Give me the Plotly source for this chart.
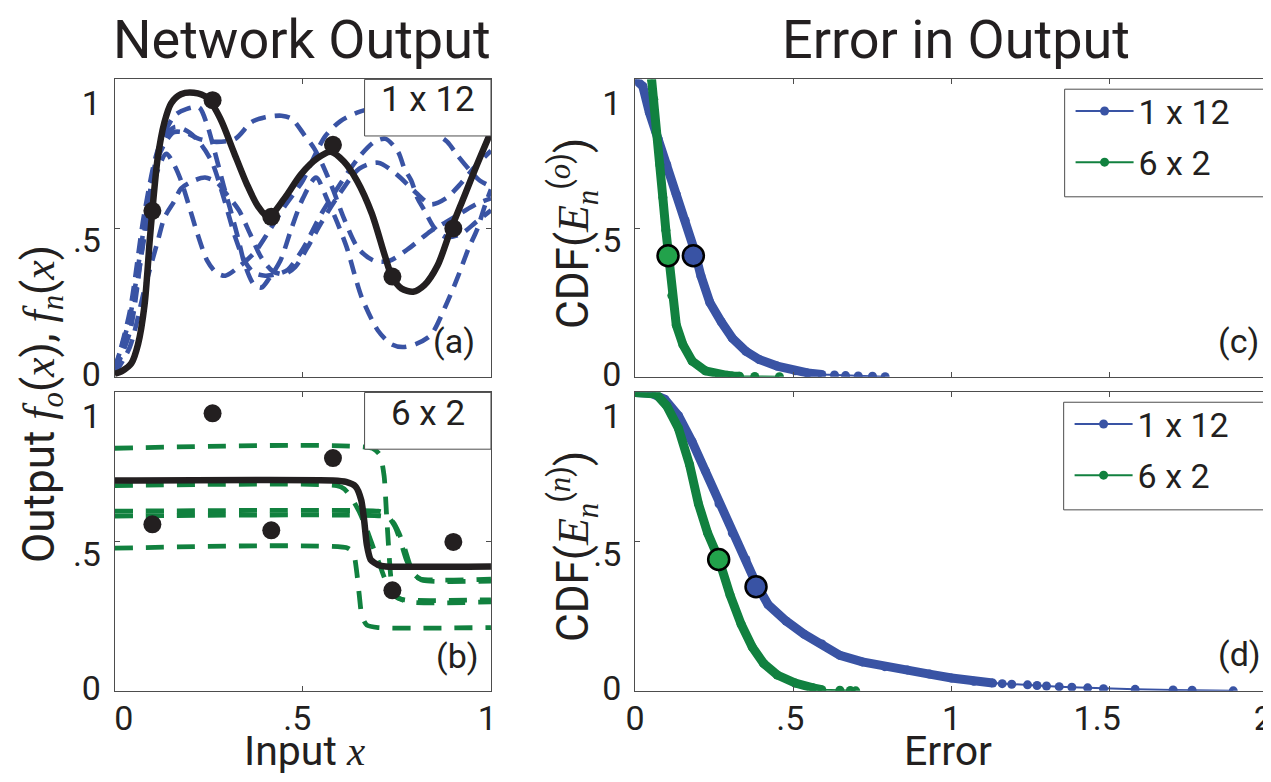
import plotly.graph_objects as go

W, H = 1271, 782
FONT = "Roboto"
SERIF = "Liberation Serif"
TXT = "#231f20"
BLUE = "#3953a4"
GREEN = "#11813f"
GREEN_HI = "#22a24b"
BLACK = "#231f20"
FRAME = "#4d4d4d"

# ---------------- data: panel (a) ----------------
X_OBS = [0.10, 0.26, 0.416, 0.58, 0.738, 0.90]
Y_OBS = [0.558, 0.93, 0.538, 0.78, 0.337, 0.499]

FO_A_X = [0, 0.02, 0.044, 0.062, 0.079, 0.093, 0.10, 0.114, 0.132, 0.15, 0.176, 0.21, 0.246, 0.281,
          0.316, 0.351, 0.38, 0.408, 0.451, 0.495, 0.539, 0.574, 0.609, 0.644, 0.683, 0.718, 0.736,
          0.762, 0.793, 0.823, 0.858, 0.893, 0.928, 0.963, 1.0]
FO_A_Y = [0.01, 0.02, 0.045, 0.11, 0.24, 0.46, 0.56, 0.735, 0.856, 0.92, 0.95, 0.955, 0.938, 0.867,
          0.757, 0.648, 0.575, 0.538, 0.60, 0.681, 0.735, 0.757, 0.724, 0.659, 0.55, 0.407, 0.34,
          0.297, 0.286, 0.308, 0.374, 0.494, 0.604, 0.714, 0.824]

FN1_X = [0, 0.04, 0.08, 0.11, 0.14, 0.158, 0.19, 0.224, 0.27, 0.32, 0.364, 0.40, 0.443, 0.47, 0.504,
         0.53, 0.552, 0.58, 0.61, 0.648, 0.69, 0.73, 0.78, 0.84, 0.88, 0.92, 0.96, 1.0]
FN1_Y = [0.02, 0.15, 0.50, 0.72, 0.80, 0.823, 0.82, 0.80, 0.79, 0.80, 0.857, 0.873, 0.878, 0.868, 0.813,
         0.768, 0.714, 0.63, 0.53, 0.43, 0.39, 0.39, 0.43, 0.49, 0.52, 0.55, 0.58, 0.60]

FN2_X = [0, 0.04, 0.08, 0.12, 0.16, 0.19, 0.224, 0.246, 0.265, 0.29, 0.31, 0.329, 0.345, 0.37, 0.39,
         0.41, 0.44, 0.47, 0.50, 0.535, 0.565, 0.591, 0.618, 0.636, 0.657, 0.70, 0.735, 0.765, 0.80,
         0.84, 0.88, 0.91, 0.94, 0.963, 0.985, 1.0]
FN2_Y = [0.03, 0.20, 0.52, 0.78, 0.88, 0.90, 0.906, 0.845, 0.76, 0.64, 0.55, 0.46, 0.38, 0.31, 0.30,
         0.33, 0.39, 0.50, 0.60, 0.67, 0.595, 0.52, 0.43, 0.35, 0.265, 0.155, 0.11, 0.10, 0.11,
         0.14, 0.24, 0.33, 0.43, 0.495, 0.58, 0.63]

FN3_X = [0, 0.04, 0.08, 0.11, 0.137, 0.158, 0.176, 0.193, 0.22, 0.246, 0.27, 0.294, 0.33, 0.373, 0.41,
         0.45, 0.50, 0.53, 0.56, 0.60, 0.644, 0.68, 0.72, 0.76, 0.80, 0.85, 0.884, 0.91, 0.94, 0.97, 1.0]
FN3_Y = [0.02, 0.18, 0.48, 0.68, 0.75, 0.712, 0.66, 0.593, 0.48, 0.39, 0.35, 0.34, 0.37, 0.42, 0.49,
         0.57, 0.66, 0.74, 0.81, 0.86, 0.888, 0.90, 0.89, 0.87, 0.85, 0.82, 0.79, 0.746, 0.70, 0.66, 0.64]

FN4_X = [0, 0.04, 0.08, 0.12, 0.16, 0.20, 0.23, 0.259, 0.29, 0.32, 0.345, 0.37, 0.40, 0.43, 0.46, 0.50,
         0.55, 0.60, 0.65, 0.69, 0.72, 0.753, 0.77, 0.788, 0.805, 0.823, 0.85, 0.88, 0.92, 0.96, 1.0]
FN4_Y = [0.02, 0.22, 0.56, 0.78, 0.84, 0.82, 0.78, 0.72, 0.60, 0.47, 0.39, 0.35, 0.34, 0.345, 0.36, 0.43,
         0.55, 0.65, 0.74, 0.79, 0.80, 0.757, 0.70, 0.66, 0.60, 0.56, 0.50, 0.47, 0.48, 0.52, 0.56]

FN5_X = [0, 0.04, 0.08, 0.115, 0.132, 0.158, 0.176, 0.211, 0.24, 0.27, 0.30, 0.33, 0.36, 0.39, 0.42,
         0.45, 0.48, 0.51, 0.55, 0.60, 0.65, 0.70, 0.75, 0.80, 0.84, 0.88, 0.92, 0.96, 1.0]
FN5_Y = [0.01, 0.10, 0.30, 0.46, 0.535, 0.59, 0.633, 0.66, 0.67, 0.655, 0.61, 0.56, 0.48, 0.40, 0.355,
         0.345, 0.37, 0.43, 0.52, 0.62, 0.70, 0.72, 0.68, 0.62, 0.58, 0.60, 0.65, 0.71, 0.76]

BLUE_CURVES = [(FN1_X, FN1_Y), (FN2_X, FN2_Y), (FN3_X, FN3_Y), (FN4_X, FN4_Y), (FN5_X, FN5_Y)]

# ---------------- data: panel (b) ----------------
FO_B_X = [0, 0.58, 0.615, 0.64, 0.655, 0.663, 0.67, 0.68, 0.70, 0.72, 1.0]
FO_B_Y = [0.705, 0.705, 0.70, 0.685, 0.64, 0.57, 0.49, 0.44, 0.422, 0.417, 0.417]

G1_X = [0, 0.685, 0.705, 0.716, 0.722, 0.728, 0.735, 0.748, 0.77, 1.0]
G1_Y = [0.813, 0.813, 0.79, 0.72, 0.60, 0.48, 0.37, 0.315, 0.305, 0.305]
G2_X = [0, 0.59, 0.61, 0.63, 0.65, 0.67, 0.69, 0.705, 0.72, 0.75, 0.78, 1.0]
G2_Y = [0.688, 0.688, 0.677, 0.645, 0.60, 0.54, 0.47, 0.42, 0.37, 0.315, 0.298, 0.298]
G3_X = [0, 0.70, 0.715, 0.73, 0.745, 0.76, 0.775, 0.79, 0.81, 1.0]
G3_Y = [0.602, 0.602, 0.597, 0.58, 0.55, 0.50, 0.44, 0.40, 0.376, 0.374]
G4_X = [0, 0.71, 0.725, 0.74, 0.755, 0.77, 0.785, 0.80, 0.82, 1.0]
G4_Y = [0.586, 0.586, 0.58, 0.565, 0.53, 0.48, 0.42, 0.385, 0.37, 0.368]
G5_X = [0, 0.62, 0.635, 0.643, 0.65, 0.657, 0.67, 0.70, 1.0]
G5_Y = [0.478, 0.478, 0.46, 0.40, 0.32, 0.25, 0.22, 0.212, 0.212]
GREEN_CURVES = [(G1_X, G1_Y), (G2_X, G2_Y), (G3_X, G3_Y), (G4_X, G4_Y), (G5_X, G5_Y)]

# ---------------- data: panel (c) complementary CDF of E_n^(o) ----------------
C_BLUE_X = [0.0, 0.024, 0.045, 0.073, 0.10, 0.13, 0.158, 0.187, 0.208, 0.236, 0.272, 0.307, 0.35, 0.392,
            0.449, 0.506, 0.545, 0.59, 0.63, 0.665, 0.705, 0.75, 0.79]
C_BLUE_Y = [1.0, 0.977, 0.889, 0.80, 0.713, 0.614, 0.526, 0.427, 0.339, 0.25, 0.185, 0.13, 0.086, 0.058,
            0.036, 0.02, 0.013, 0.008, 0.006, 0.004, 0.003, 0.002, 0.0]
C_BLUE_BODY = 18
C_GREEN_X = [0.052, 0.059, 0.066, 0.078, 0.0875, 0.097, 0.106, 0.116, 0.13, 0.151, 0.18, 0.222, 0.265,
             0.29, 0.307, 0.33, 0.378, 0.456]
C_GREEN_Y = [1.0, 0.933, 0.823, 0.713, 0.603, 0.493, 0.383, 0.273, 0.174, 0.108, 0.053, 0.02, 0.007,
             0.005, 0.003, 0.002, 0.001, 0.0]
C_GREEN_BODY = 16
C_MEDIAN_X = [0.184, 0.104]   # 1 x 12, 6 x 2
C_MEDIAN_Y = [0.407, 0.407]

# ---------------- data: panel (d) complementary CDF of E_n^(n) ----------------
D_BLUE_X = [0.0, 0.052, 0.094, 0.137, 0.18, 0.222, 0.265, 0.307, 0.35, 0.382, 0.42, 0.477, 0.534, 0.59,
            0.647, 0.718, 0.789, 0.86, 0.93, 1.0, 1.07, 1.13, 1.16, 1.19, 1.24, 1.27, 1.30, 1.34,
            1.38, 1.43, 1.48, 1.58, 1.70, 1.76, 1.89]
D_BLUE_Y = [1.0, 0.997, 0.977, 0.922, 0.835, 0.737, 0.627, 0.529, 0.44, 0.36, 0.289, 0.234, 0.19, 0.157,
            0.119, 0.097, 0.081, 0.07, 0.056, 0.043, 0.032, 0.026, 0.024, 0.022, 0.02, 0.018, 0.016, 0.014,
            0.012, 0.01, 0.007, 0.005, 0.003, 0.002, 0.0]
D_BLUE_BODY = 22
D_GREEN_X = [0.0, 0.066, 0.10, 0.137, 0.172, 0.20, 0.229, 0.265, 0.30, 0.335, 0.37, 0.406, 0.449, 0.506,
             0.562, 0.59, 0.647, 0.68, 0.697]
D_GREEN_Y = [1.0, 0.995, 0.955, 0.879, 0.758, 0.627, 0.529, 0.44, 0.321, 0.223, 0.147, 0.092, 0.053, 0.026,
             0.01, 0.004, 0.002, 0.001, 0.0]
D_GREEN_BODY = 16
D_MEDIAN_X = [0.382, 0.264]
D_MEDIAN_Y = [0.349, 0.44]

SERIES_NAMES = ["1 x 12", "6 x 2"]
MEDIAN_FILL = [BLUE, GREEN_HI]


def PX(p):
    return p / W


def PY(p):
    return 1 - p / H


# ---------------- figure ----------------
fig = go.Figure()

# (a) network outputs 1 x 12
for cx, cy in BLUE_CURVES:
    fig.add_trace(go.Scatter(x=cx, y=cy, mode="lines", xaxis="x", yaxis="y", showlegend=False,
                             line=dict(color=BLUE, width=4.6, dash="15px,9px", shape="spline", smoothing=0.8)))
fig.add_trace(go.Scatter(x=FO_A_X, y=FO_A_Y, mode="lines", xaxis="x", yaxis="y", showlegend=False,
                         line=dict(color=BLACK, width=6.5, shape="spline", smoothing=0.8)))
fig.add_trace(go.Scatter(x=X_OBS, y=Y_OBS, mode="markers", xaxis="x", yaxis="y", showlegend=False,
                         marker=dict(color=BLACK, size=18)))

# (b) network outputs 6 x 2
for cx, cy in GREEN_CURVES:
    fig.add_trace(go.Scatter(x=cx, y=cy, mode="lines", xaxis="x2", yaxis="y2", showlegend=False,
                             line=dict(color=GREEN, width=4.8, dash="18px,13px", shape="spline", smoothing=0.6)))
fig.add_trace(go.Scatter(x=FO_B_X, y=FO_B_Y, mode="lines", xaxis="x2", yaxis="y2", showlegend=False,
                         line=dict(color=BLACK, width=6.5, shape="spline", smoothing=0.6)))
fig.add_trace(go.Scatter(x=X_OBS, y=Y_OBS, mode="markers", xaxis="x2", yaxis="y2", showlegend=False,
                         marker=dict(color=BLACK, size=18)))


def add_cdf(xs, ys, body, color, name, xa, ya, legend):
    fig.add_trace(go.Scatter(x=xs, y=ys, mode="lines+markers", name=name, xaxis=xa, yaxis=ya,
                             legend=legend, legendgroup=legend + name,
                             line=dict(color=color, width=2), marker=dict(color=color, size=9)))
    fig.add_trace(go.Scatter(x=xs[:body], y=ys[:body], mode="lines", xaxis=xa, yaxis=ya, showlegend=False,
                             line=dict(color=color, width=9)))


add_cdf(C_BLUE_X, C_BLUE_Y, C_BLUE_BODY, BLUE, SERIES_NAMES[0], "x3", "y3", "legend")
add_cdf(C_GREEN_X, C_GREEN_Y, C_GREEN_BODY, GREEN, SERIES_NAMES[1], "x3", "y3", "legend")
add_cdf(D_BLUE_X, D_BLUE_Y, D_BLUE_BODY, BLUE, SERIES_NAMES[0], "x4", "y4", "legend2")
add_cdf(D_GREEN_X, D_GREEN_Y, D_GREEN_BODY, GREEN, SERIES_NAMES[1], "x4", "y4", "legend2")

for mx, my, xa, ya in [(C_MEDIAN_X, C_MEDIAN_Y, "x3", "y3"), (D_MEDIAN_X, D_MEDIAN_Y, "x4", "y4")]:
    fig.add_trace(go.Scatter(x=mx, y=my, mode="markers", xaxis=xa, yaxis=ya, showlegend=False,
                             marker=dict(color=MEDIAN_FILL, size=21, line=dict(color="black", width=2.5))))

# ---------------- axes ----------------
XL = [PX(98), PX(479)]
XR = [PX(625), PX(1266)]
YT = [PY(377), PY(73)]
YB = [PY(698), PY(393)]
TICKFONT = dict(family=FONT, size=34, color=TXT)


def axis(domain, anchor, rng, lab_vals, lab_text, tick_vals, show_labels, standoff, shift):
    return dict(domain=domain, anchor=anchor, range=rng, showgrid=False, zeroline=False,
                showline=True, linecolor=FRAME, linewidth=1, mirror="ticks",
                tickmode="array", tickvals=lab_vals, ticktext=lab_text, ticks="",
                showticklabels=show_labels, tickfont=TICKFONT,
                ticklabelstandoff=standoff, ticklabelshift=shift,
                minor=dict(tickmode="array", tickvals=tick_vals, ticks="inside", ticklen=5,
                           tickcolor=FRAME, tickwidth=1, showgrid=False))


# where the reference prints its tick labels (the end labels sit just inside the frame)
Y_LAB_VALS = [0.04, 0.49, 0.95]
Y_LAB_TEXT = ["0", ".5", "1"]
XL_LAB_VALS = [0.024, 0.485, 0.99]
XL_LAB_TEXT = ["0", ".5", "1"]
XR_LAB_VALS = [0, 0.49, 1.0, 1.46, 1.985]
XR_LAB_TEXT = ["0", ".5", "1", "1.5", "2"]

XS, YS, YSH = -3, 6, 9
fig.update_layout(
    xaxis=axis(XL, "y", [0, 1], XL_LAB_VALS, XL_LAB_TEXT, [0.5], False, XS, 0),
    yaxis=axis(YT, "x", [0, 1], Y_LAB_VALS, Y_LAB_TEXT, [0.5], True, YS, YSH),
    xaxis2=axis(XL, "y2", [0, 1], XL_LAB_VALS, XL_LAB_TEXT, [0.5], True, XS, 0),
    yaxis2=axis(YB, "x2", [0, 1], Y_LAB_VALS, Y_LAB_TEXT, [0.5], True, YS, YSH),
    xaxis3=axis(XR, "y3", [0, 2], XR_LAB_VALS, XR_LAB_TEXT, [0.5, 1, 1.5], False, XS, 0),
    yaxis3=axis(YT, "x3", [0, 1], Y_LAB_VALS, Y_LAB_TEXT, [0.5], True, YS, YSH),
    xaxis4=axis(XR, "y4", [0, 2], XR_LAB_VALS, XR_LAB_TEXT, [0.5, 1, 1.5], True, XS, 0),
    yaxis4=axis(YB, "x4", [0, 1], Y_LAB_VALS, Y_LAB_TEXT, [0.5], True, YS, YSH),
)

LEGEND_STYLE = dict(xanchor="left", yanchor="top", bgcolor="rgba(0,0,0,0)", borderwidth=0,
                    font=dict(family=FONT, size=34, color=TXT), tracegroupgap=4, itemwidth=58)
fig.update_layout(
    legend=dict(x=PX(1066), y=PY(76), **LEGEND_STYLE),
    legend2=dict(x=PX(1065), y=PY(396), **LEGEND_STYLE),
)


def it(s):
    return "<span style=\"font-family:'%s'\"><i>%s</i></span>" % (SERIF, s)


ann = []
BIG = dict(family=FONT, size=54, color=TXT)
MID = dict(family=FONT, size=44, color=TXT)
AXT = dict(family=FONT, size=41, color=TXT)
SMALL = dict(family=FONT, size=34, color=TXT)
ann.append(dict(x=PX(288), y=PY(32), text="Network Output", font=BIG))
ann.append(dict(x=PX(950), y=PY(32), text="Error in Output", font=BIG))
ann.append(dict(x=PX(290), y=PY(759), text="Input " + it("x"), font=AXT))
ann.append(dict(x=PX(942), y=PY(759), text="Error", font=AXT))
ann.append(dict(x=PX(23), y=PY(405), textangle=-90, font=MID,
                text="Output " + it("f") + "<sub>" + it("o") + "</sub>(" + it("x") + "), "
                     + it("f") + "<sub>" + it("n") + "</sub>(" + it("x") + ")"))
ann.append(dict(x=PX(562), y=PY(230), textangle=-90, font=MID,
                text="CDF(" + it("E") + "<sub>" + it("n") + "</sub><sup>(" + it("o") + ")</sup>)"))
ann.append(dict(x=PX(562), y=PY(550), textangle=-90, font=MID,
                text="CDF(" + it("E") + "<sub>" + it("n") + "</sub><sup>(" + it("n") + ")</sup>)"))
for lab, px, py in [("(a)", 442, 340), ("(b)", 445, 662), ("(c)", 1236, 340), ("(d)", 1237, 660)]:
    ann.append(dict(x=PX(px), y=PY(py), text=lab, font=SMALL))
# text of the network-size boxes
ann.append(dict(x=PX(415), y=PY(94), text="1 x 12", font=dict(family=FONT, size=35, color=TXT)))
ann.append(dict(x=PX(415), y=PY(414), text="6 x 2", font=dict(family=FONT, size=35, color=TXT)))
for a in ann:
    a.update(xref="paper", yref="paper", showarrow=False, xanchor="center", yanchor="middle")

shapes = []
for xa, ya in [("x", "y"), ("x2", "y2")]:
    shapes.append(dict(type="rect", xref=xa + " domain", yref=ya + " domain",
                       x0=1 - 128 / 381, x1=1, y0=1 - 58 / 305, y1=1,
                       line=dict(color=FRAME, width=1), fillcolor="white", layer="above"))
# legend frames of panels (c) and (d)
for top, bot, left, right in [(83, 193, 1060, 1263), (403, 513, 1059, 1262)]:
    shapes.append(dict(type="rect", xref="paper", yref="paper",
                       x0=PX(left), x1=PX(right), y0=PY(bot), y1=PY(top),
                       line=dict(color=FRAME, width=1), fillcolor="white", layer="above"))

fig.update_layout(annotations=ann, shapes=shapes, width=W, height=H, margin=dict(l=0, r=0, t=0, b=0),
                  paper_bgcolor="white", plot_bgcolor="white", font=dict(family=FONT, color=TXT))

fig.write_html("out.html")
